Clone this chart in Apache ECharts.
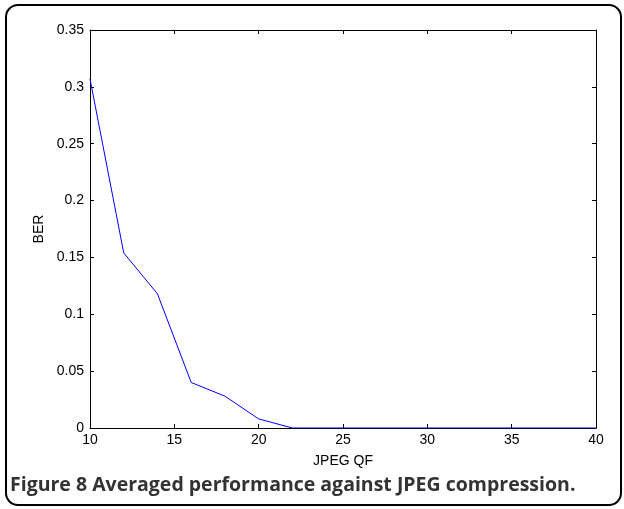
<!DOCTYPE html>
<html>
<head>
<meta charset="utf-8">
<script src="https://cdn.jsdelivr.net/npm/echarts@6/dist/echarts.min.js"></script>
<style>
  html, body { margin: 0; padding: 0; background: #fff; }
  #chart { width: 624px; height: 509px; }
</style>
</head>
<body>
<div id="chart"></div>
<script>
// JPEG quality factor and averaged bit error rate
const qualityFactors = [10, 12, 14, 16, 18, 20, 22, 24, 26, 28, 30, 32, 34, 36, 38, 40];
const berValues = [0.307, 0.154, 0.118, 0.040, 0.028, 0.008, 0, 0, 0, 0, 0, 0, 0, 0, 0, 0];
const xTicks = [10, 15, 20, 25, 30, 35, 40];
const yTicks = [0, 0.05, 0.1, 0.15, 0.2, 0.25, 0.3, 0.35];
const captionBold = 'Figure 8';
const captionRest = ' Averaged performance against JPEG compression.';

const chart = echarts.init(document.getElementById('chart'), null, { renderer: 'canvas' });

const tickFont = { color: '#000', fontFamily: 'Liberation Sans, Arial, sans-serif', fontSize: 14 };
const axisLine = { show: true, onZero: false, lineStyle: { color: '#000', width: 1 } };
const inTick = { show: true, inside: true, length: 4, lineStyle: { color: '#000', width: 1 } };

chart.setOption({
  animation: false,
  backgroundColor: '#fff',
  grid: { left: 90, top: 30, right: 28, bottom: 81, containLabel: false },
  xAxis: [
    {
      type: 'value', min: xTicks[0], max: xTicks[xTicks.length - 1], interval: 5,
      position: 'bottom',
      name: 'JPEG QF', nameLocation: 'middle', nameGap: 26,
      nameTextStyle: tickFont,
      axisLine: axisLine, axisTick: inTick,
      axisLabel: Object.assign({ margin: 5 }, tickFont),
      splitLine: { show: false }
    },
    {
      type: 'value', min: xTicks[0], max: xTicks[xTicks.length - 1], interval: 5,
      position: 'top',
      axisLine: axisLine, axisTick: inTick,
      axisLabel: { show: false }, splitLine: { show: false }
    }
  ],
  yAxis: [
    {
      type: 'value', min: yTicks[0], max: yTicks[yTicks.length - 1], interval: 0.05,
      position: 'left',
      name: 'BER', nameLocation: 'middle', nameGap: 44, nameRotate: 90,
      nameTextStyle: tickFont,
      axisLine: axisLine, axisTick: inTick,
      axisLabel: Object.assign({ margin: 6, formatter: v => String(+v.toFixed(2)) }, tickFont),
      splitLine: { show: false }
    },
    {
      type: 'value', min: yTicks[0], max: yTicks[yTicks.length - 1], interval: 0.05,
      position: 'right',
      axisLine: axisLine, axisTick: inTick,
      axisLabel: { show: false }, splitLine: { show: false }
    }
  ],
  series: [{
    type: 'line',
    xAxisIndex: 0, yAxisIndex: 0,
    data: qualityFactors.map((q, i) => [q, berValues[i]]),
    showSymbol: false,
    lineStyle: { color: '#0000ff', width: 1 },
    itemStyle: { color: '#0000ff' }
  }],
  graphic: [
    {
      type: 'rect', silent: true, z: -1,
      shape: { x: 6, y: 5, width: 615, height: 500, r: 12 },
      style: { fill: 'none', stroke: '#000', lineWidth: 2 }
    },
    {
      type: 'text', left: 10, top: 475,
      style: {
        text: '{b|' + captionBold + '}{r|' + captionRest + '}',
        rich: {
          b: { fontFamily: 'Open Sans, sans-serif', fontWeight: 'bold', fontSize: 19.5, fill: '#333' },
          r: { fontFamily: 'Open Sans, sans-serif', fontWeight: 'bold', fontSize: 19.5, fill: '#333' }
        }
      }
    }
  ]
});
</script>
</body>
</html>
